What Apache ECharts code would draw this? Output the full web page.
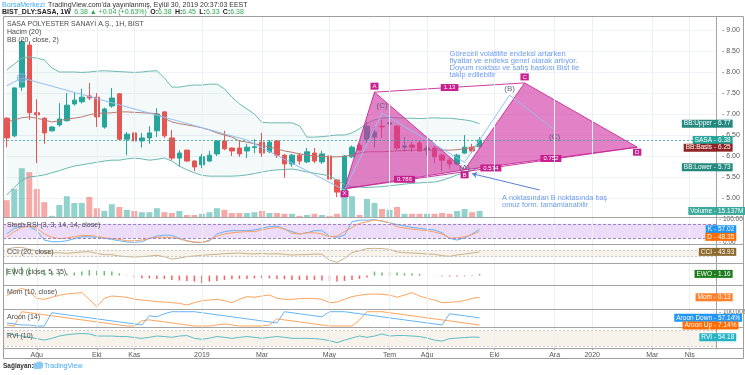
<!DOCTYPE html>
<html>
<head>
<meta charset="utf-8">
<script src="https://cdn.jsdelivr.net/npm/echarts@6/dist/echarts.min.js"></script>
<style>
html, body { margin: 0; padding: 0; background: #fff; }
#chart { width: 745px; height: 375px; }
</style>
</head>
<body>
<div id="chart"></div>
<script>
const FONT = '"Liberation Sans", Arial, sans-serif';

// weekly bars, the first one is the week of 9 Jul 2018, the axis runs on into 2020
const firstWeek = Date.UTC(2018, 6, 9);
const weekCount = 95;
const weeks = [];
for (let i = 0; i < weekCount; i++) {
	weeks.push(new Date(firstWeek + i * 7 * 86400000).toISOString().slice(0, 10));
}

const monthTicks = {
	'2018-08-06': 'Ağu', '2018-10-01': 'Eki', '2018-11-05': 'Kas', '2019-01-07': '2019',
	'2019-03-04': 'Mar', '2019-05-06': 'May', '2019-07-01': 'Tem', '2019-08-05': 'Ağu',
	'2019-10-07': 'Eki', '2019-12-02': 'Ara', '2020-01-06': '2020', '2020-03-02': 'Mar',
	'2020-04-06': 'Nis'
};
const monthKeys = Object.keys(monthTicks);

// SASA weekly prices
const opens = [6.90,6.48,7.64,8.64,7.03,6.90,6.60,6.74,6.84,7.24, 7.29,7.43,7.40,6.69,7.19,7.48,6.40,6.55,6.36,6.43,
	6.60,7.05,6.43,5.95,6.14,5.88,5.79,5.88,6.05,6.36, 6.19,6.19,6.12,6.20,6.33,6.10,6.36,6.02,5.81,6.02,
	5.86,6.07,5.86,6.00,5.43,5.14,5.98,6.26,6.40,6.45, 6.71,6.76,6.71,6.21,6.26,6.31,6.14,6.19,6.02,5.90,
	5.81,6.07,6.21,6.22];
const closes = [6.43,7.62,8.72,7.03,6.98,6.55,6.69,6.88,7.21,7.33, 7.40,7.38,6.93,7.12,7.38,6.40,6.52,6.36,6.43,6.55,
	7.00,6.48,5.95,6.07,5.88,5.74,5.98,6.02,6.36,6.17, 6.12,6.05,6.21,6.22,6.07,6.33,6.02,5.81,6.02,5.88,
	6.10,5.88,6.05,5.45,5.14,6.00,6.21,6.14,6.71,6.57, 6.69,6.79,6.19,6.24,6.21,6.12,6.19,5.98,5.90,5.81,
	6.02,6.21,6.12,6.38];
const lows = [6.21,6.45,7.55,6.86,5.83,6.29,6.58,6.70,6.82,7.20, 7.25,7.33,6.69,6.65,7.15,6.38,6.02,6.10,6.20,6.29,
	6.45,6.43,5.90,5.74,5.86,5.64,5.71,5.86,6.00,6.14, 6.00,5.98,5.95,6.07,5.98,6.07,5.95,5.48,5.74,5.79,
	5.83,5.83,5.81,5.43,5.02,5.05,5.95,6.12,6.30,6.20, 6.43,6.71,6.14,6.10,6.10,6.10,6.02,5.83,5.64,5.70,
	5.78,6.05,6.07,6.18];
const highs = [6.93,7.64,8.78,8.72,7.35,6.92,6.71,7.26,7.50,7.50, 7.60,7.74,7.50,7.15,7.62,7.50,6.57,6.74,6.55,6.71,
	7.14,7.07,6.62,6.14,6.14,5.90,6.05,6.12,6.38,6.60, 6.20,6.36,6.29,6.40,6.55,6.38,6.38,6.05,6.05,6.07,
	6.19,6.19,6.12,6.02,5.45,6.02,6.25,6.30,6.81,6.70, 6.86,7.00,6.74,6.45,6.33,6.36,6.24,6.24,6.05,5.95,
	6.05,6.50,6.29,6.45];
// volume, millions
const volumes = [42,70,122,112,70,37,3,30,52,35, 35,50,22,15,32,25,18,15,12,12,
	22,12,10,15,5,5,8,12,22,18, 10,10,10,12,15,10,10,8,8,3,
	5,8,5,3,8,50,52,5,45,35, 20,18,25,8,8,8,8,8,10,8,
	15,20,12,15.137];

// Bollinger (20, close, 2)
const bbUpper = [8.05,8.19,8.33,8.36,8.33,8.29,8.10,8.00,8.00,8.00, 7.99,8.00,8.02,8.03,8.02,8.01,8.00,7.99,8.00,8.02,
	8.03,7.86,7.64,7.64,7.67,7.69,7.69,7.71,7.71,7.60, 7.40,7.24,7.12,7.00,6.80,6.79,6.79,6.79,6.79,6.72,
	6.45,6.45,6.46,6.48,6.50,6.50,6.55,6.65,6.78,6.86, 6.90,6.92,6.91,6.90,6.90,6.89,6.90,6.91,6.90,6.90,
	6.88,6.86,6.83,6.77];
const bbBasis = [6.81,6.86,6.91,6.93,6.90,6.86,6.81,6.84,6.88,6.90, 6.93,6.98,7.02,7.02,7.03,7.05,7.05,7.04,7.03,7.02,
	7.01,6.90,6.81,6.77,6.74,6.71,6.67,6.62,6.55,6.50, 6.45,6.36,6.33,6.29,6.26,6.21,6.17,6.12,6.09,6.05,
	6.02,6.00,5.99,5.98,5.98,5.99,6.02,6.07,6.10,6.10, 6.10,6.11,6.12,6.13,6.14,6.14,6.14,6.14,6.14,6.14,
	6.15,6.17,6.21,6.25];
const bbLower = [5.07,5.25,5.42,5.50,5.52,5.55,5.60,5.65,5.71,5.76, 5.79,5.82,5.85,5.88,5.90,5.90,5.93,5.95,5.93,5.90,
	5.92,5.95,5.88,5.76,5.67,5.60,5.54,5.52,5.52,5.52, 5.52,5.53,5.55,5.58,5.62,5.65,5.67,5.68,5.69,5.66,
	5.62,5.59,5.56,5.53,5.42,5.32,5.27,5.26,5.25,5.26, 5.27,5.29,5.31,5.33,5.35,5.36,5.37,5.38,5.42,5.48,
	5.55,5.60,5.66,5.73];

// indicator panes
const stochK = [37,61,68,68,51,11,4,4,8,17, 25,25,23,18,14,8,3,1,4,18, 28,32,31,18,8,1,1,7,37,47,
	51,51,51,54,61,68,71,57,47,37, 42,51,51,28,23,32,89,96,96,98, 92,85,77,71,65,61,57,54,42,18,
	11,20,37,57.02];
const stochD = [23,47,65,71,61,37,23,17,20,25, 31,30,27,21,17,14,8,8,11,18, 23,23,21,17,7,3,1,11,28,37,
	42,45,47,47,54,61,65,59,40,37, 42,42,37,25,28,47,65,82,89,96, 92,85,68,62,58,54,51,45,37,20,
	20,25,34,48.35];
const cci = [130,170,180,120,80,20,10,20,0,20, 40,50,0,-40,-40,-80,-100,-110,-100,-80,
	-60,-100,-170,-140,-100,-80,-60,-40,-30,-10, 0,10,-10,-20,0,-20,-10,-30,-50,-40,
	-40,-20,-30,-200,-270,-150,20,80,140,150, 140,120,40,20,10,0,-20,-30,-70,-90,
	-50,-20,10,43.93];
const ewo = [5.0,5.5,6.0,5.5,5.0,4.2,3.0,2.3,1.6,2.1, 2.8,3.9,3.4,3.2,2.8,1.6,0.3,-1.4,-1.9,-1.9,
	-2.3,-2.3,-3.0,-3.4,-3.7,-4.1,-5.3,-4.1,-3.7,-3.0, -2.5,-2.3,-2.3,-1.9,-1.9,-1.9,-2.3,-2.5,-3.0,-3.0,
	-3.0,-3.0,-3.4,-3.7,-4.1,-3.7,-3.0,-2.3,-1.4,2.8, 2.1,2.3,2.1,1.6,1.6,1.2,0.2,0.2,-0.5,-0.7,
	-0.7,-0.5,-0.3,1.16];
const mom = [0.3,0.7,1.03,0.7,0.03,-0.07,0.13,0.33,0.46,0.53, 0.6,-0.07,-0.81,0.03,0.26,0.2,0.13,-0.07,-0.14,-0.21,
	-0.31,-0.34,-0.41,-0.47,-0.64,-0.41,-0.21,-0.14,-0.07,-0.21, -0.41,-0.07,0.2,0.13,0.26,0.36,0.03,-0.07,-0.07,0.0,
	0.03,0.0,-0.07,-0.41,-0.34,-0.07,0.2,0.33,0.43,0.46, 0.43,0.36,0.13,0.36,0.6,0.26,0.03,-0.14,-0.41,-0.37,
	-0.31,-0.21,0.03,0.13];
const aroonUp = [7.14,0,100,92.86,85.71,78.57,71.43,64.29,57.14,50, 42.86,35.71,28.57,21.43,14.29,7.14,0,0,35.71,42.86,
	35.71,28.57,21.43,14.29,7.14,0,0,0,7.14,14.29, 7.14,0,0,0,0,7.14,50,42.86,35.71,28.57,
	21.43,14.29,7.14,0,0,0,0,42.86,100,100, 100,92.86,85.71,78.57,71.43,64.29,57.14,50,42.86,35.71,
	28.57,21.43,14.29,7.14];
const aroonDown = [21.43,14.29,7.14,7.14,0,0,92.86,85.71,78.57,71.43, 64.29,57.14,50,42.86,35.71,28.57,21.43,14.29,7.14,71.43,
	64.29,85.71,100,100,100,100,92.86,85.71,78.57,71.43, 64.29,57.14,50,42.86,35.71,28.57,21.43,100,92.86,85.71,
	78.57,71.43,64.29,100,100,100,92.86,85.71,78.57,71.43, 64.29,57.14,50,42.86,35.71,28.57,21.43,14.29,7.14,85.71,
	78.57,71.43,64.29,57.14];
const rvi = [69,64,59,54,49,43,50,59,64,67, 69,67,59,59,59,57,57,53,50,54, 59,57,54,59,61,50,46,51,57,54,
	50,54,57,54,50,54,57,54,50,50, 50,49,46,41,33,43,51,59,54,59, 67,59,61,61,59,57,51,43,39,49,
	51,53,55,54.18];

// drawings: XABCD harmonic pattern, wave path, notes
const harmonicNames = ['X', 'A', 'B', 'C', 'D'];
const harmonicIdx = [45, 49, 61, 69, 84];
const harmonicPx = [5.22, 7.52, 5.67, 7.74, 6.21];
const harmonicRatios = [['0.786', 0, 2], ['1.13', 1, 3], ['0.752', 2, 4], ['0.574', 0, 4]];
const waveIdx = [0, 2, 32, 45, 50, 61, 67, 73];
const wavePx = [7.67, 7.86, 6.38, 5.19, 7.02, 5.85, 7.45, 6.62];
const waveLabels = [['(C)', 50, 7.02, -7], ['(A)', 61, 5.85, 5], ['(B)', 67, 7.45, -6], ['(C)', 73, 6.62, 7]];
const arrowFrom = [71, 5.19];
const arrowTo = [62, 5.58];
const note1 = 'Göreceli volatilite endeksi artarken\nfiyatlar ve endeks genel olarak artıyor.\nDoyum noktası ve satış baskısı Bist ile\ntakip edilebilir';
const note1At = [59, 8.50];
const note2 = 'A noktasından B noktasında baş\nomuz form. tamamlanabilir';
const note2At = [66, 5.08];

const UP = '#26a69a', DOWN = '#ef5350';
const lastIdx = closes.length - 1;

const candles = opens.map((o, i) => [o, closes[i], lows[i], highs[i]]);
const volBars = volumes.map((v, i) => ({
	value: v,
	itemStyle: { color: closes[i] >= opens[i] ? 'rgba(38,166,154,0.5)' : 'rgba(239,83,80,0.5)' }
}));
const ewoBars = ewo.map(v => ({ value: v, itemStyle: { color: v >= 0 ? '#6cc070' : '#f06262' } }));
const bandWidth = bbUpper.map((u, i) => +(u - bbLower[i]).toFixed(3));

// pane layout: [top, height]
const panes = [[9, 210], [17, 200], [218, 27], [245, 19], [264, 21], [285, 25], [310, 18], [328, 20]];

const grids = panes.map(p => ({ left: 3, width: 713, top: p[0], height: p[1] }));
const xAxes = panes.map((p, i) => ({
	type: 'category', gridIndex: i, data: weeks, boundaryGap: true,
	axisLine: { show: false },
	axisTick: i === 7 ? { show: true, length: 2, alignWithLabel: true, lineStyle: { color: '#999' },
		interval: (n, v) => !!monthTicks[v] } : { show: false },
	axisLabel: i === 7 ? {
		show: true, interval: (n, v) => !!monthTicks[v], formatter: v => monthTicks[v] || '',
		fontSize: 7, color: '#555', margin: 4, fontFamily: FONT
	} : { show: false },
	splitLine: { show: false }
}));
const yAxes = [
	{ gridIndex: 0, type: 'value', position: 'right', min: 4.5, max: 9.5, interval: 0.5,
		axisLine: { show: false }, axisTick: { show: false },
		axisLabel: { fontSize: 7, color: '#555', margin: 6, fontFamily: FONT,
			formatter: v => (v < 5 || v > 9) ? '' : '- ' + v.toFixed(2) },
		splitLine: { show: true, showMinLine: false, showMaxLine: false, lineStyle: { color: '#eff2f6' } } },
	{ gridIndex: 1, type: 'value', min: 0, max: 500, show: false },
	{ gridIndex: 2, type: 'value', min: -10, max: 105, show: false },
	{ gridIndex: 3, type: 'value', min: -318, max: 249, show: false },
	{ gridIndex: 4, type: 'value', min: -6.5, max: 8, show: false },
	{ gridIndex: 5, type: 'value', min: -1.14, max: 1.36, show: false },
	{ gridIndex: 6, type: 'value', min: -14, max: 112, show: false },
	{ gridIndex: 7, type: 'value', min: 12, max: 90.6, show: false }
];

const gridLineStyle = { color: '#eceff3', width: 1, type: 'solid' };
function monthLines(extra) {
	return {
		silent: true, symbol: 'none', label: { show: false }, lineStyle: gridLineStyle,
		data: monthKeys.map(k => ({ xAxis: k })).concat(extra || [])
	};
}
function band(lo, hi, fill, lineColor, dash) {
	return {
		markArea: { silent: true, itemStyle: { color: fill }, data: [[{ yAxis: lo }, { yAxis: hi }]] },
		markLine: monthLines([
			{ yAxis: lo, lineStyle: { color: lineColor, type: dash, width: 1 } },
			{ yAxis: hi, lineStyle: { color: lineColor, type: dash, width: 1 } }
		])
	};
}
function thinLine(name, data, color, xi, extra) {
	return Object.assign({
		name, type: 'line', xAxisIndex: xi, yAxisIndex: xi, data, symbol: 'none',
		lineStyle: { color, width: 1 }, silent: true
	}, extra || {});
}

const series = [
	// Bollinger fill between lower and upper
	{ type: 'line', xAxisIndex: 0, yAxisIndex: 0, data: bbLower, stack: 'bb', symbol: 'none',
		lineStyle: { opacity: 0 }, silent: true,
		markLine: {
			silent: true, symbol: 'none', label: { show: false }, lineStyle: gridLineStyle,
			data: monthKeys.map(k => [{ coord: [k, 9.31] }, { coord: [k, 4.55] }])
		} },
	{ type: 'line', xAxisIndex: 0, yAxisIndex: 0, data: bandWidth, stack: 'bb', symbol: 'none',
		lineStyle: { opacity: 0 }, areaStyle: { color: 'rgba(38,166,154,0.07)' }, silent: true },
	thinLine('BB Upper', bbUpper, '#6cb9b2', 0),
	thinLine('BB Lower', bbLower, '#6cb9b2', 0),
	thinLine('BB Basis', bbBasis, '#b77a74', 0),
	{ name: 'SASA', type: 'candlestick', xAxisIndex: 0, yAxisIndex: 0, data: candles, barWidth: 5,
		itemStyle: { color: UP, color0: DOWN, borderColor: UP, borderColor0: DOWN, borderWidth: 1 },
		markLine: { silent: true, symbol: 'none', label: { show: false },
			data: [{ yAxis: closes[lastIdx], lineStyle: { color: UP, type: [2, 2], width: 1, opacity: 0.8 } }] } },
	{ name: 'Volume', type: 'bar', xAxisIndex: 1, yAxisIndex: 1, data: volBars, barWidth: 6, silent: true },
	// harmonic pattern
	{ type: 'custom', xAxisIndex: 0, yAxisIndex: 0, silent: true, z: 4, clip: false,
		data: [[harmonicIdx[0], harmonicPx[0]]],
		renderItem: (params, api) => {
			const p = harmonicIdx.map((x, i) => api.coord([x, harmonicPx[i]]));
			const fill = 'rgba(208,52,162,0.62)', edge = 'rgba(200,40,150,0.9)';
			const ch = [
				{ type: 'polygon', shape: { points: [p[0], p[1], p[2]] }, style: { fill, stroke: edge, lineWidth: 1 } },
				{ type: 'polygon', shape: { points: [p[2], p[3], p[4]] }, style: { fill, stroke: edge, lineWidth: 1 } },
				{ type: 'line', shape: { x1: p[1][0], y1: p[1][1], x2: p[3][0], y2: p[3][1] }, style: { stroke: edge, lineWidth: 1 } },
				{ type: 'line', shape: { x1: p[0][0], y1: p[0][1], x2: p[4][0], y2: p[4][1] }, style: { stroke: edge, lineWidth: 1 } }
			];
			harmonicRatios.forEach(r => {
				const a = p[r[1]], b = p[r[2]];
				ch.push({ type: 'text', x: (a[0] + b[0]) / 2, y: (a[1] + b[1]) / 2, z2: 10,
					style: { text: r[0], fill: '#fff', backgroundColor: '#c9208f', padding: [1, 3, 0, 3],
						font: '6px ' + FONT, align: 'center', verticalAlign: 'middle' } });
			});
			harmonicNames.forEach((n, i) => {
				ch.push({ type: 'text', x: p[i][0], y: p[i][1] + (i % 2 ? -6 : 5), z2: 10,
					style: { text: n, fill: '#fff', backgroundColor: '#c9208f', padding: [1, 2, 0, 2],
						font: '6px ' + FONT, align: 'center', verticalAlign: 'middle' } });
			});
			waveLabels.forEach(w => {
				const q = api.coord([w[1], w[2]]);
				ch.push({ type: 'text', x: q[0], y: q[1] + w[3], z2: 11,
					style: { text: w[0], fill: '#5d6380', font: '8px ' + FONT, align: 'center', verticalAlign: 'middle' } });
			});
			return { type: 'group', children: ch };
		} },
	// wave path
	{ type: 'line', xAxisIndex: 0, yAxisIndex: 0, data: waveIdx.map((x, i) => [x, wavePx[i]]), symbol: 'none',
		lineStyle: { color: '#93bff4', width: 1 }, silent: true, z: 5,
		markLine: { silent: true, symbol: ['none', 'arrow'], symbolSize: 5, label: { show: false },
			lineStyle: { color: '#5b7fd6', width: 1, type: 'solid' },
			data: [[{ coord: arrowFrom }, { coord: arrowTo }]] } },
	{ type: 'scatter', xAxisIndex: 0, yAxisIndex: 0, data: [[waveIdx[1], wavePx[1]]], symbolSize: 9, silent: true, z: 6,
		itemStyle: { color: 'rgba(180,205,240,0.35)', borderColor: '#7aa7ef', borderWidth: 1 },
		label: { show: true, position: 'inside', formatter: '(A)', fontSize: 5, color: '#5d6380' } },
	// Stoch RSI
	Object.assign(thinLine('K', stochK, '#64b5f6', 2), band(20, 80, 'rgba(150,60,230,0.18)', '#9a82c4', [3, 2])),
	thinLine('D', stochD, '#ff9e5e', 2),
	// CCI
	Object.assign(thinLine('CCI', cci, '#c9b18a', 3), band(-100, 100, 'rgba(205,180,130,0.16)', '#c8c8c8', [2, 2])),
	// EWO
	{ name: 'EWO', type: 'bar', xAxisIndex: 4, yAxisIndex: 4, data: ewoBars, barWidth: 1.5, silent: true,
		markLine: monthLines() },
	// Mom
	thinLine('Mom', mom, '#ffa45c', 5, { markLine: monthLines() }),
	// Aroon
	thinLine('Aroon Up', aroonUp, '#ffa45c', 6, { markLine: monthLines() }),
	thinLine('Aroon Down', aroonDown, '#64b5f6', 6),
	// RVI
	Object.assign(thinLine('RVI', rvi, '#5fbcc4', 7), band(20, 80, 'rgba(205,180,130,0.16)', '#c8c8c8', [2, 2]))
];

const chart = echarts.init(document.getElementById('chart'), null, { renderer: 'canvas' });
chart.setOption({
	animation: false,
	backgroundColor: '#fff',
	grid: grids, xAxis: xAxes, yAxis: yAxes, series: series
});

// texts and tags positioned through the axes
const el = [];
const txt = (x, y, text, size, fill, extra) => el.push({ type: 'text', x, y, z: 50, silent: true,
	style: Object.assign({ text, fill, font: size + 'px ' + FONT, verticalAlign: 'middle' }, extra || {}) });
const hline = (y, x1, x2, color) => el.push({ type: 'line', z: 60, silent: true,
	shape: { x1, y1: y, x2, y2: y }, style: { stroke: color, lineWidth: 1 } });

// frame and pane separators
el.push({ type: 'rect', z: 60, silent: true, shape: { x: 3.5, y: 16.5, width: 740, height: 342 },
	style: { fill: 'none', stroke: '#9e9e9e', lineWidth: 1 } });
[217.5, 244.5, 263.5, 285.5, 309.5, 327.5, 348.5].forEach(y => hline(y, 3.5, 743.5, '#a4a4a4'));
el.push({ type: 'line', z: 60, silent: true, shape: { x1: 716.5, y1: 16.5, x2: 716.5, y2: 348.5 },
	style: { stroke: '#a4a4a4', lineWidth: 1 } });

// header and footer
el.push({ type: 'text', x: 2, y: 5, z: 50, silent: true, style: {
	text: '{b|BorsaMerkezi} {d|TradingView.com\'da yayınlanmış, Eylül 30, 2019 20:37:03 EEST}',
	verticalAlign: 'middle',
	rich: { b: { fill: '#3fa9f5', font: '7px ' + FONT }, d: { fill: '#333', font: '7px ' + FONT } } } });
el.push({ type: 'text', x: 2, y: 12.5, z: 50, silent: true, style: {
	text: '{k|BIST_DLY:SASA, 1W} {g|6.38 ▲ +0.04 (+0.63%)} {k|O:}{g|6.38} {k|H:}{g|6.45} {k|L:}{g|6.33} {k|C:}{g|6.38}',
	verticalAlign: 'middle',
	rich: { k: { fill: '#222', font: 'bold 7px ' + FONT }, g: { fill: '#2fa84f', font: '7px ' + FONT } } } });
txt(3, 366, 'Sağlayan:', 6.5, '#333', { font: 'bold 6.5px ' + FONT });
el.push({ type: 'circle', z: 50, silent: true, shape: { cx: 36, cy: 366, r: 3.2 }, style: { fill: '#8cc8f0' } });
el.push({ type: 'circle', z: 50, silent: true, shape: { cx: 39.5, cy: 365.2, r: 3.8 }, style: { fill: '#8cc8f0' } });
txt(44, 366, 'TradingView', 7, '#3fa9f5');

// pane titles
const titles = [[24, 'SASA POLYESTER SANAYİ A.Ş., 1H, BIST'], [32.5, 'Hacim (20)'], [40.5, 'BB (20, close, 2)'],
	[225, 'Stoch RSI (3, 3, 14, 14, close)'], [252, 'CCI (20, close)'], [272, 'EWO (close, 5, 35)'],
	[292.5, 'Mom (10, close)'], [317, 'Aroon (14)'], [336, 'RVI (10)']];
titles.forEach(t => txt(7, t[0], t[1], 7, '#4a4a4a'));

// axis texts for stoch and aroon panes
const py = (axis, v) => chart.convertToPixel({ yAxisIndex: axis }, v);
txt(719, py(2, 100), '- 100.00', 6.5, '#555');
txt(719, py(2, 0), '- 0.00', 6.5, '#555');
txt(719, py(6, 100), '- 100.00%', 6.5, '#555');

// notes
const p1 = chart.convertToPixel({ gridIndex: 0 }, note1At);
txt(p1[0], p1[1], note1, 7.6, '#6a9bef', { verticalAlign: 'top', lineHeight: 6.7 });
const p2 = chart.convertToPixel({ gridIndex: 0 }, note2At);
txt(p2[0], p2[1], note2, 7.3, '#6a9bef', { verticalAlign: 'top', lineHeight: 7 });

// last value tags on the right
const tagGroups = [
	[[0, bbUpper[lastIdx], 'BB:Upper', '#23897f'], [0, closes[lastIdx], 'SASA', UP],
		[0, bbBasis[lastIdx], 'BB:Basis', '#8e2424'], [0, bbLower[lastIdx], 'BB:Lower', '#23897f']],
	[[1, volumes[lastIdx], 'Volume', '#3aa89c', volumes[lastIdx].toFixed(3) + 'M']],
	[[2, stochK[lastIdx], 'K', '#2196f3'], [2, stochD[lastIdx], 'D', '#ff6d00']],
	[[3, cci[lastIdx], 'CCI', '#8d6b2f']],
	[[4, ewo[lastIdx], 'EWO', '#1f7d1f']],
	[[5, mom[lastIdx], 'Mom', '#ff7f2a']],
	[[6, aroonDown[lastIdx], 'Aroon Down', '#2196f3', aroonDown[lastIdx].toFixed(2) + '%'],
		[6, aroonUp[lastIdx], 'Aroon Up', '#ff6d00', aroonUp[lastIdx].toFixed(2) + '%']],
	[[7, rvi[lastIdx], 'RVI', '#26b3c4']]
];
tagGroups.forEach(g => {
	const tags = g.map(t => ({ y: py(t[0], t[1]), name: t[2], color: t[3], val: t[4] || t[1].toFixed(2) }));
	tags.sort((a, b) => a.y - b.y);
	for (let i = 1; i < tags.length; i++) if (tags[i].y < tags[i - 1].y + 7.6) tags[i].y = tags[i - 1].y + 7.6;
	tags.forEach(t => {
		const base = { fill: '#fff', font: '6.5px ' + FONT, verticalAlign: 'middle', backgroundColor: t.color };
		el.push({ type: 'text', x: 717, y: t.y, z: 70, silent: true,
			style: Object.assign({}, base, { text: t.name + ' -', align: 'right', padding: [1, 1, 0, 2] }) });
		el.push({ type: 'text', x: 717, y: t.y, z: 70, silent: true,
			style: Object.assign({}, base, { text: t.val, align: 'left', padding: [1, 2, 0, 1] }) });
	});
});

chart.setOption({ graphic: { elements: el } });
</script>
</body>
</html>
